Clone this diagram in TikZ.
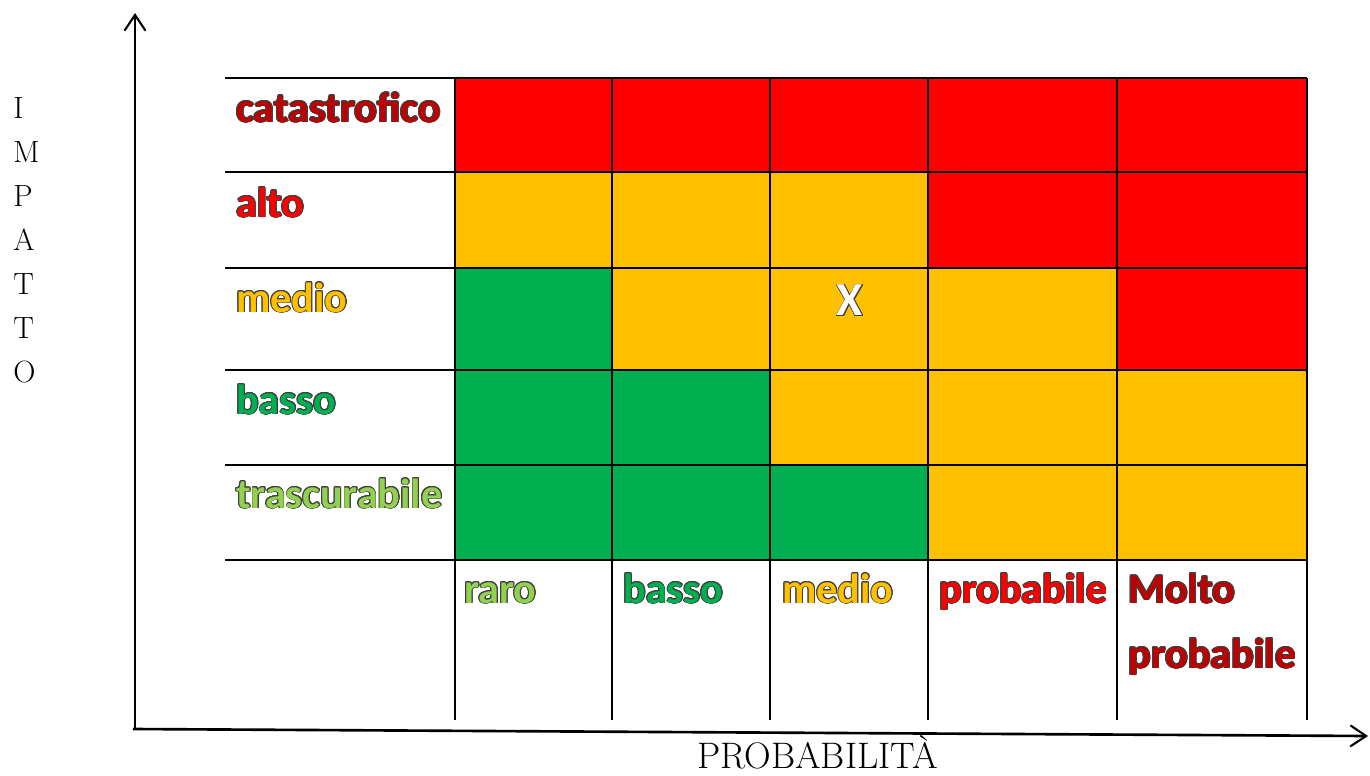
\documentclass[tikz,border=0pt]{standalone}
\usepackage{fontspec}
\usepackage{contour}
\usetikzlibrary{arrows.meta}
\newfontfamily\cellfont{Carlito}
\definecolor{rosso}{HTML}{FF0000}
\definecolor{rossoscuro}{HTML}{C00000}
\definecolor{giallo}{HTML}{FFC000}
\definecolor{verde}{HTML}{00B050}
\definecolor{verdechiaro}{HTML}{92D050}
\contourlength{0.5pt}
\tikzset{
  lvltext/.style={anchor=base west, inner sep=0pt, font=\cellfont\bfseries\fontsize{24}{37}\selectfont},
  gridline/.style={line width=0.6pt},
  axisline/.style={line width=1.5pt, -{Straight Barb[length=9pt, width=12pt, line width=1.2pt]}},
  axistext/.style={anchor=base west, inner sep=0pt, align=left}
}
\newcommand{\lvl}[2]{\textcolor{#1}{\contour{black!75}{#2}}}
\begin{document}
\begin{tikzpicture}[x=0.02cm, y=-0.02cm]
\useasboundingbox (0,0) rectangle (1370,775);

% Fill the cells (rows from catastrofico down to trascurabile)
\fill[rosso] (455,78) rectangle (612,172);
\fill[rosso] (612,78) rectangle (770,172);
\fill[rosso] (770,78) rectangle (928,172);
\fill[rosso] (928,78) rectangle (1117,172);
\fill[rosso] (1117,78) rectangle (1307,172);
\fill[giallo] (455,172) rectangle (612,268);
\fill[giallo] (612,172) rectangle (770,268);
\fill[giallo] (770,172) rectangle (928,268);
\fill[rosso] (928,172) rectangle (1117,268);
\fill[rosso] (1117,172) rectangle (1307,268);
\fill[verde] (455,268) rectangle (612,370);
\fill[giallo] (612,268) rectangle (770,370);
\fill[giallo] (770,268) rectangle (928,370);
\fill[giallo] (928,268) rectangle (1117,370);
\fill[rosso] (1117,268) rectangle (1307,370);
\fill[verde] (455,370) rectangle (612,465);
\fill[verde] (612,370) rectangle (770,465);
\fill[giallo] (770,370) rectangle (928,465);
\fill[giallo] (928,370) rectangle (1117,465);
\fill[giallo] (1117,370) rectangle (1307,465);
\fill[verde] (455,465) rectangle (612,560);
\fill[verde] (612,465) rectangle (770,560);
\fill[verde] (770,465) rectangle (928,560);
\fill[giallo] (928,465) rectangle (1117,560);
\fill[giallo] (1117,465) rectangle (1307,560);

% Draw the grid lines
\draw[gridline] (225,78) -- (1307,78);
\draw[gridline] (225,172) -- (1307,172);
\draw[gridline] (225,268) -- (1307,268);
\draw[gridline] (225,370) -- (1307,370);
\draw[gridline] (225,465) -- (1307,465);
\draw[gridline] (225,560) -- (1307,560);
\draw[gridline] (455,78) -- (455,720);
\draw[gridline] (612,78) -- (612,720);
\draw[gridline] (770,78) -- (770,720);
\draw[gridline] (928,78) -- (928,720);
\draw[gridline] (1117,78) -- (1117,720);
\draw[gridline] (1307,78) -- (1307,720);

% Impact levels
\node[lvltext] (catastrofico) at (236,122) {\lvl{rossoscuro}{catastrofico}};
\node[lvltext] (alto) at (236,217) {\lvl{rosso}{alto}};
\node[lvltext] (medioimp) at (236,312) {\lvl{giallo}{medio}};
\node[lvltext] (bassoimp) at (236,414) {\lvl{verde}{basso}};
\node[lvltext] (trascurabile) at (236,508) {\lvl{verdechiaro}{trascurabile}};

% Probability levels
\node[lvltext] (raro) at (464,603) {\lvl{verdechiaro}{raro}};
\node[lvltext] (bassoprob) at (623,603) {\lvl{verde}{basso}};
\node[lvltext] (medioprob) at (782,603) {\lvl{giallo}{medio}};
\node[lvltext] (probabile) at (939,603) {\lvl{rosso}{probabile}};
\node[lvltext, align=left] (molto) at (1128,668) {\lvl{rossoscuro}{Molto}\\\lvl{rossoscuro}{probabile}};

% Position of the risk
\node[inner sep=0pt, font=\cellfont\bfseries\fontsize{27}{32}\selectfont] (rischio) at (850,301) {\lvl{white}{X}};

% Axes
\coordinate (origine) at (135,729);
\coordinate (cimay) at (135,13);
\coordinate (cimax) at (1368,736);
\draw[axisline] (origine) -- (cimay);
\draw[axisline] (133,729) -- (cimax);
\node[axistext, font=\fontsize{17.5}{25}\selectfont] (impatto) at (13,382) {I\\M\\P\\A\\T\\T\\O};
\node[axistext, font=\fontsize{21}{25}\selectfont] (probabilita) at (697,768) {PROBABILITÀ};
\end{tikzpicture}
\end{document}
